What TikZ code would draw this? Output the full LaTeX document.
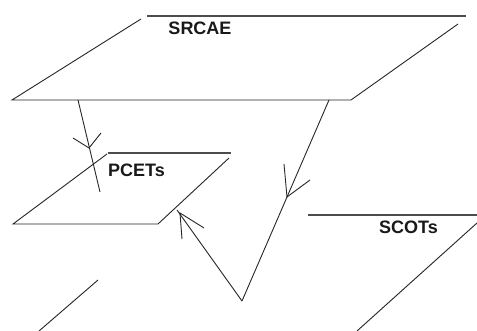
\documentclass[tikz,border=0pt]{standalone}
\usepackage{fontspec}
\setmainfont{Liberation Sans}
\begin{document}
\begin{tikzpicture}[x=1pt,y=-1pt,
  edge/.style={draw=black!85,line width=0.9pt},
  topedge/.style={draw=black!70,line width=1.3pt},
  lbl/.style={font=\bfseries\fontsize{18}{20}\selectfont,inner sep=0pt,text=black!90}]
\useasboundingbox[fill=white] (0,0) rectangle (477,331);
% SRCAE plane
\coordinate (s1) at (147,16); \coordinate (s2) at (466,16);
\coordinate (s3) at (141,19); \coordinate (s4) at (12,100);
\coordinate (s5) at (351,100); \coordinate (s6) at (458,24);
\draw[topedge] (s1) -- (s2);
\draw[edge] (s3) -- (s4) -- (s5) -- (s6);
\node[lbl] (srcae) at (200,28.5) {SRCAE};
% PCETs plane
\coordinate (p1) at (108,153); \coordinate (p2) at (231,153);
\coordinate (p3) at (107,154); \coordinate (p4) at (13,224);
\coordinate (p5) at (158,224); \coordinate (p6) at (229,158);
\draw[topedge] (p1) -- (p2);
\draw[edge] (p3) -- (p4) -- (p5) -- (p6);
\node[lbl] (pcets) at (136.5,170) {PCETs};
% SCOTs plane
\coordinate (c1) at (308,215); \coordinate (c2) at (477,215);
\coordinate (c3) at (477,223); \coordinate (c4) at (357,331);
\draw[topedge] (c1) -- (c2);
\draw[edge] (c3) -- (c4);
\node[lbl] (scots) at (408.5,227) {SCOTs};
% lone line
\coordinate (l1) at (98,280); \coordinate (l2) at (39,331);
\draw[edge] (l1) -- (l2);
% connector 1: SRCAE -> PCETs
\coordinate (a1) at (78,100); \coordinate (a2) at (100,192);
\coordinate (t1) at (89,148); \coordinate (b1) at (73,138); \coordinate (b2) at (101,133);
\draw[edge] (a1) -- (a2);
\draw[edge] (b1) -- (t1) -- (b2);
% connector 2: SRCAE -> bottom vertex
\coordinate (r1) at (329,100); \coordinate (v) at (242,301);
\coordinate (t2) at (287,197); \coordinate (b3) at (284,164); \coordinate (b4) at (310,180);
\draw[edge] (r1) -- (v);
\draw[edge] (b3) -- (t2) -- (b4);
% connector 3: bottom vertex -> PCETs
\coordinate (q) at (177,210);
\coordinate (t3) at (180,213); \coordinate (b5) at (182,239); \coordinate (b6) at (204,228);
\draw[edge] (v) -- (q);
\draw[edge] (b5) -- (t3) -- (b6);
\end{tikzpicture}
\end{document}
